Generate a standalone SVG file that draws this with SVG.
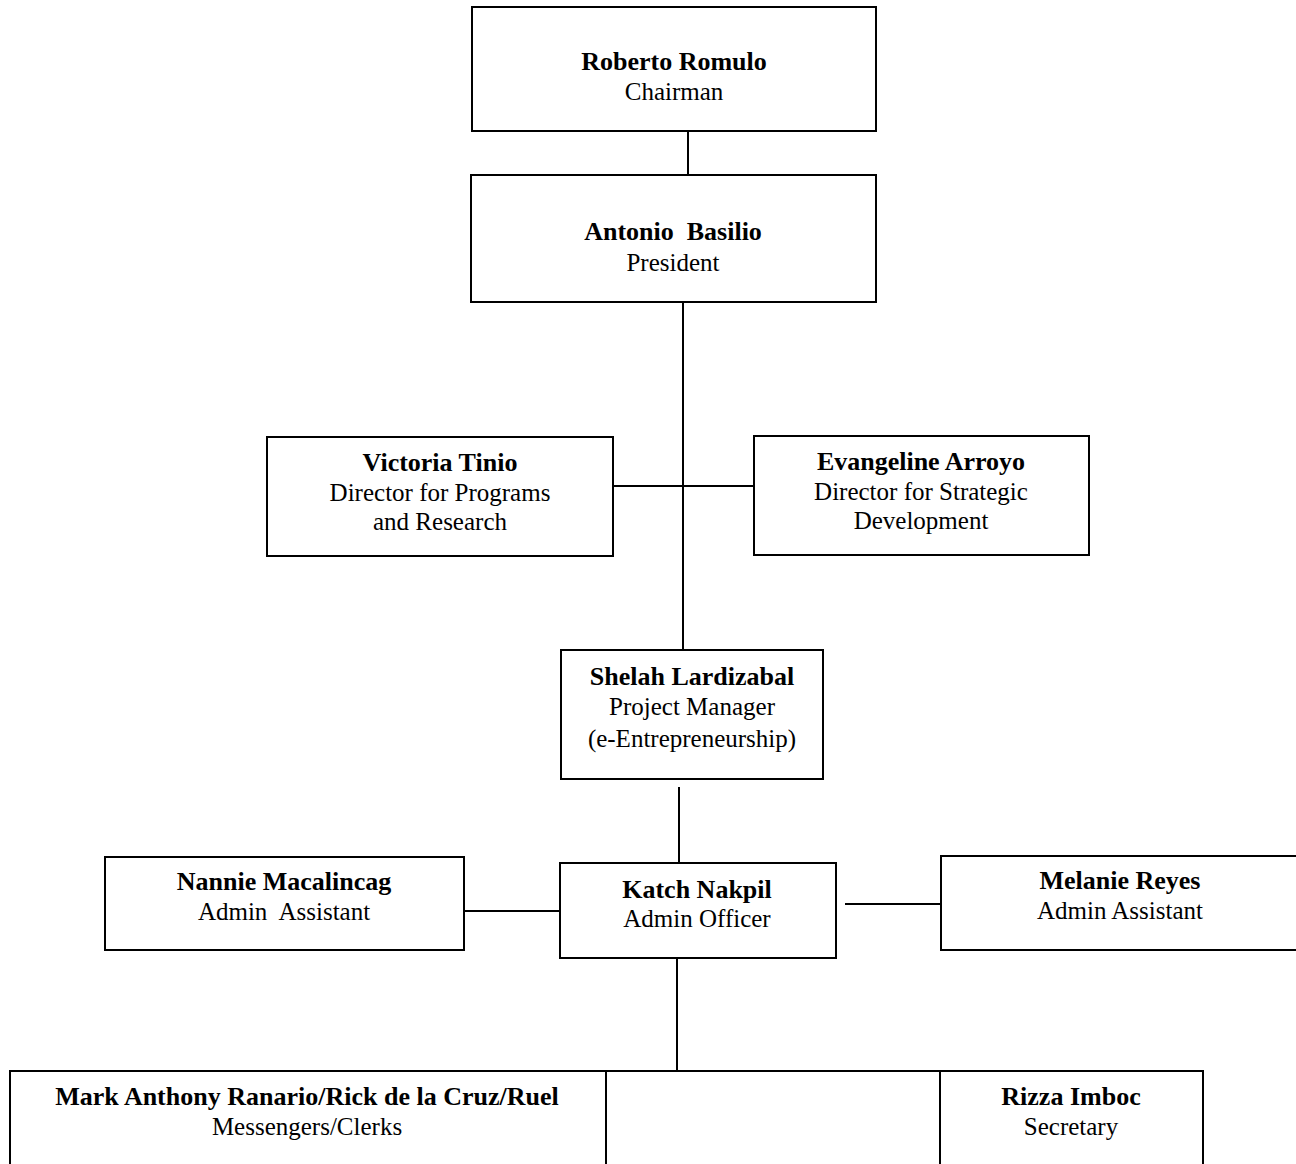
<svg xmlns="http://www.w3.org/2000/svg" width="1296" height="1164" viewBox="0 0 1296 1164">
<style>
.box{fill:#fff;stroke:#000;stroke-width:2}
.ln{stroke:#000;stroke-width:2;fill:none}
text{font-family:"Liberation Serif","Times New Roman",serif;font-size:25px;text-anchor:middle;fill:#000}
.b{font-weight:bold;font-size:26px}
</style>
<rect width="1296" height="1164" fill="#fff"/>
<g id="connectors">
<line class="ln" x1="688" y1="131" x2="688" y2="175"/>
<line class="ln" x1="683" y1="296" x2="683" y2="650"/>
<line class="ln" x1="613" y1="486" x2="754" y2="486"/>
<line class="ln" x1="679" y1="787" x2="679" y2="863"/>
<line class="ln" x1="464" y1="911" x2="560" y2="911"/>
<line class="ln" x1="845" y1="904" x2="941" y2="904"/>
<line class="ln" x1="677" y1="953" x2="677" y2="1071"/>
</g>
<g id="chairman">
<rect class="box" x="472" y="7" width="404" height="124"/>
<text class="b" x="674" y="70">Roberto Romulo</text>
<text x="674" y="100">Chairman</text>
</g>
<g id="president">
<rect class="box" x="471" y="175" width="405" height="127"/>
<text class="b" x="673" y="240" xml:space="preserve">Antonio  Basilio</text>
<text x="673" y="271">President</text>
</g>
<g id="victoria">
<rect class="box" x="267" y="437" width="346" height="119"/>
<text class="b" x="440" y="471">Victoria Tinio</text>
<text x="440" y="501">Director for Programs</text>
<text x="440" y="530">and Research</text>
</g>
<g id="evangeline">
<rect class="box" x="754" y="436" width="335" height="119"/>
<text class="b" x="921" y="470">Evangeline Arroyo</text>
<text x="921" y="500">Director for Strategic</text>
<text x="921" y="529">Development</text>
</g>
<g id="shelah">
<rect class="box" x="561" y="650" width="262" height="129"/>
<text class="b" x="692" y="685">Shelah Lardizabal</text>
<text x="692" y="715">Project Manager</text>
<text x="692" y="747">(e-Entrepreneurship)</text>
</g>
<g id="katch">
<rect class="box" x="560" y="863" width="276" height="95"/>
<text class="b" x="697" y="898">Katch Nakpil</text>
<text x="697" y="927">Admin Officer</text>
</g>
<g id="nannie">
<rect class="box" x="105" y="857" width="359" height="93"/>
<text class="b" x="284" y="890">Nannie Macalincag</text>
<text x="284" y="920" xml:space="preserve">Admin  Assistant</text>
</g>
<g id="melanie">
<rect class="box" x="941" y="856" width="365" height="94"/>
<text class="b" x="1120" y="889">Melanie Reyes</text>
<text x="1120" y="919">Admin Assistant</text>
</g>
<g id="messengers">
<path class="ln" d="M10,1172 V1071 H606 V1172"/>
<text class="b" x="307" y="1105">Mark Anthony Ranario/Rick de la Cruz/Ruel</text>
<text x="307" y="1135">Messengers/Clerks</text>
</g>
<g id="blank">
<path class="ln" d="M606,1071 H940"/>
</g>
<g id="rizza">
<path class="ln" d="M940,1172 V1071 H1203 V1172"/>
<text class="b" x="1071" y="1105">Rizza Imboc</text>
<text x="1071" y="1135">Secretary</text>
</g>
</svg>
